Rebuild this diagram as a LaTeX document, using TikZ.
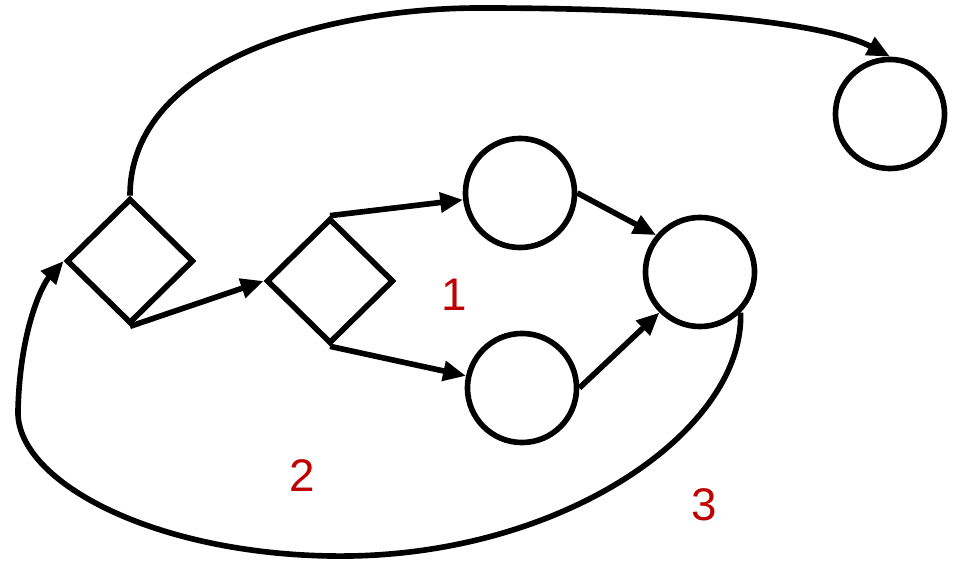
\documentclass[tikz,border=0pt]{standalone}
\usepackage{fontspec}
\setmainfont{Liberation Sans}
\usetikzlibrary{arrows.meta,shapes.geometric}
\definecolor{LabelR}{RGB}{192,0,0}

\tikzset{
  gate/.style={draw,diamond,line width=1.6pt,inner sep=0pt,
    minimum width=1.27cm,minimum height=1.25cm},
  actnode/.style={draw,circle,line width=1.6pt,inner sep=0pt,minimum size=1.09cm},
  flow/.style={line width=1.6pt,-{Triangle[length=6.5pt,width=5.5pt]}},
  regionlbl/.style={text=LabelR,inner sep=0pt,font=\fontsize{13}{15}\selectfont}
}

\begin{document}
\begin{tikzpicture}[x=0.01cm,y=-0.01cm]
        \useasboundingbox (0,0) rectangle (955,562);
        % gateways
        \node[gate] (split1) at (130,261) {};
        \node[gate] (split2) at (330,281) {};
        % activities
        \node[actnode] (taskUp)   at (520,193) {};
        \node[actnode] (taskDown) at (522,388) {};
        \node[actnode] (join)     at (700,272) {};
        \node[actnode] (sink)     at (890,114) {};
        % region numbers
        \node[regionlbl] (lblOne)   at (454,295) {1};
        \node[regionlbl] (lblTwo)   at (302,476) {2};
        \node[regionlbl] (lblThree) at (704,505) {3};
        % connectors
        \draw[flow] (split1.south) -- (split2.west);
        \draw[flow] (split2.north) -- (taskUp);
        \draw[flow] (split2.south) -- (taskDown);
        \draw[flow] (taskUp.east) -- (join.140);
        \draw[flow] (taskDown.east) -- (join.south west);
        \draw[flow] (split1.north) .. controls (130,60) and (330,8) .. (480,8)
          .. controls (700,8) and (830,25) .. (sink.north);
        \draw[flow] (join.-45) .. controls (745,430) and (560,560) .. (330,556)
          .. controls (150,553) and (15,480) .. (18,410)
          .. controls (20,330) and (42,285) .. (split1.west);
      \end{tikzpicture}
\end{document}
